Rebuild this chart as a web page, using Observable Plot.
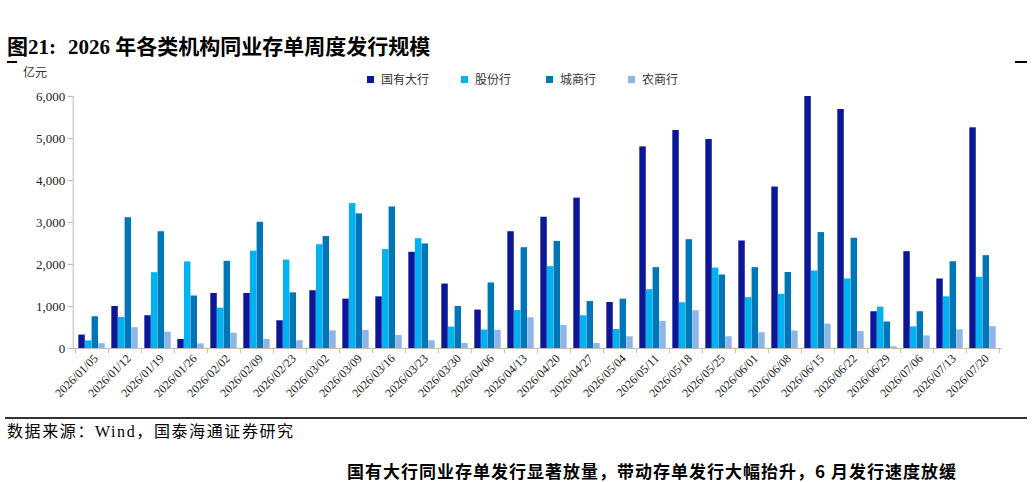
<!DOCTYPE html>
<html><head><meta charset="utf-8">
<script src="https://cdn.jsdelivr.net/npm/d3@7"></script>
<script src="https://cdn.jsdelivr.net/npm/@observablehq/plot@0.6"></script>
<style>
html,body{margin:0;padding:0;background:#fff;}
#wrap{position:relative;width:1032px;height:482px;overflow:hidden;font-family:"Liberation Serif","Noto Sans CJK SC",serif;color:#000;}
.abs{position:absolute;white-space:nowrap;line-height:1;}
.sw{position:absolute;width:7px;height:7px;}
.lg{position:absolute;font-family:"Noto Sans CJK SC",sans-serif;font-size:12px;color:#333;line-height:1;white-space:nowrap;}
#chart{position:absolute;left:0;top:60px;}
</style></head><body><div id="wrap">
<div class="abs" style="left:7px;top:37px;font-size:21px;font-weight:bold;">图21:<span style="margin-left:12px;">2026 年各类机构同业存单周度发行规模</span></div>
<div class="abs" style="left:7px;top:61px;width:10px;height:2px;background:#000;"></div>
<div class="abs" style="left:1015px;top:61px;width:12px;height:2px;background:#000;"></div>
<div class="abs" style="left:23px;top:66px;font-family:'Noto Sans CJK SC',sans-serif;font-size:12px;color:#333;">亿元</div>
<div id="legend"></div>
<div id="chart"></div>
<div class="abs" style="left:5px;top:417px;width:1022px;height:2px;background:#333;"></div>
<div class="abs" style="left:7px;top:424px;font-size:16px;letter-spacing:1.6px;">数据来源：Wind，国泰海通证券研究</div>
<div class="abs" style="left:347px;top:462px;font-size:17px;font-weight:bold;font-family:'Noto Sans CJK SC',sans-serif;letter-spacing:1px;">国有大行同业存单发行显著放量，带动存单发行大幅抬升，6 月发行速度放缓</div>
</div>
<script>
const dates = ["2026/01/05","2026/01/12","2026/01/19","2026/01/26","2026/02/02","2026/02/09","2026/02/23","2026/03/02","2026/03/09","2026/03/16","2026/03/23","2026/03/30","2026/04/06","2026/04/13","2026/04/20","2026/04/27","2026/05/04","2026/05/11","2026/05/18","2026/05/25","2026/06/01","2026/06/08","2026/06/15","2026/06/22","2026/06/29","2026/07/06","2026/07/13","2026/07/20"];
const bigBanks   = [320,1000,780,215,1310,1310,660,1375,1175,1230,2290,1535,915,2780,3125,3580,1095,4800,5190,4975,2560,3845,6000,5690,875,2305,1655,5255];
const jointStock = [180,740,1805,2060,960,2315,2105,2470,3450,2355,2615,510,440,905,1950,780,455,1400,1090,1915,1210,1290,1845,1655,985,515,1230,1695];
const cityBanks  = [755,3115,2780,1250,2075,3005,1325,2665,3205,3370,2490,1000,1560,2400,2550,1120,1175,1925,2590,1750,1925,1810,2760,2625,630,875,2065,2210];
const ruralBanks = [115,495,390,110,365,215,185,420,430,310,185,120,435,730,550,120,280,645,900,280,375,415,580,405,40,300,445,520];
const seriesNames = ["国有大行","股份行","城商行","农商行"];
const seriesColors = ["#0b1796","#00b2f0","#0076b8","#8db6e6"];
const yTicks = [0,1000,2000,3000,4000,5000,6000];

const seriesValues = [bigBanks, jointStock, cityBanks, ruralBanks];
const rows = [];
seriesValues.forEach((vals, k) => vals.forEach((v, i) => rows.push({date: dates[i], series: seriesNames[k], value: v})));

// legend
const legendPos = [[367,381],[461,475],[546,560],[628,642]];
const lg = document.getElementById("legend");
seriesNames.forEach((n, k) => {
  const s = document.createElement("div"); s.className = "sw";
  s.style.left = legendPos[k][0] + "px"; s.style.top = "76px"; s.style.background = seriesColors[k];
  const t = document.createElement("div"); t.className = "lg";
  t.style.left = legendPos[k][1] + "px"; t.style.top = "73px"; t.textContent = n;
  lg.appendChild(s); lg.appendChild(t);
});

const W = 1032, ML = 72.7, MR = 30.3;
const bw = (W - ML - MR) / dates.length;
const step = bw / 5;
const axisGray = "#bdbdbd";

const barMarks = seriesNames.map((n, k) => Plot.barY(rows.filter(r => r.series === n), {
  x: "date", y: "value", fill: "series",
  insetLeft: step * (0.5 + k), insetRight: step * (3.5 - k)
}));

const chart = Plot.plot({
  width: W, height: 350,
  marginLeft: ML, marginRight: MR, marginTop: 36, marginBottom: 62,
  style: {fontFamily: "Liberation Serif", background: "transparent"},
  x: {domain: dates, padding: 0, axis: null},
  y: {domain: [0, 6000], axis: null},
  color: {domain: seriesNames, range: seriesColors},
  marks: [
    ...barMarks,
    Plot.frame({anchor: "left", stroke: axisGray}),
    Plot.ruleY([0], {stroke: axisGray}),
    Plot.axisY(yTicks, {tickSize: 5, tickPadding: 3, stroke: axisGray, fill: "#222", fontSize: 13, tickFormat: d3.format(","), label: null}),
    Plot.axisX(dates, {tickSize: 5, stroke: axisGray, fill: "none", dx: -bw / 2, label: null}),
    Plot.axisX([dates[dates.length - 1]], {tickSize: 5, stroke: axisGray, fill: "none", dx: bw / 2, label: null}),
    Plot.axisX(dates, {tickSize: 5, tickPadding: 3, stroke: "none", fill: "#222", fontSize: 12, tickRotate: -45, dx: 4, label: null})
  ]
});
document.getElementById("chart").appendChild(chart);
</script>
</body></html>
